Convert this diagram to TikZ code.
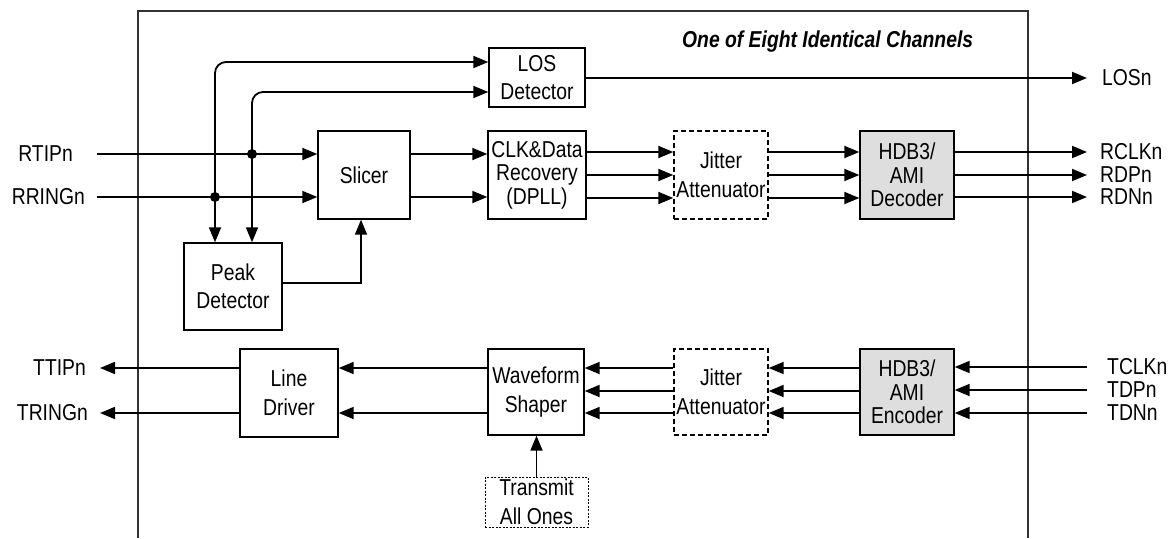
\documentclass[tikz,border=0pt]{standalone}
\usepackage{fontspec}
\setmainfont{Liberation Sans}[FakeStretch=0.84]
\usetikzlibrary{arrows.meta}
\newcommand\fA{\fontsize{23}{25}\selectfont}
\newcommand\fB{\fontsize{23}{28.5}\selectfont}
\newcommand\fC{\fontsize{23}{23.5}\selectfont}
\begin{document}
\begin{tikzpicture}[x=1pt,y=-1pt,
  every node/.style={font=\fA},
  box/.style={draw, line width=1.4pt, inner sep=0pt, align=center},
  jbox/.style={box, dash pattern=on 5pt off 3pt},
  gbox/.style={box, fill=black!13},
  wire/.style={line width=1.8pt},
  tip/.tip={Triangle[length=15pt,width=12pt]},
  arr/.style={wire, -tip},
  lbl/.style={inner sep=0pt},
  dot/.style={circle, fill, inner sep=0pt, minimum size=10pt},
  frame/.style={line width=1.3pt, black!80}]
\useasboundingbox (0,0) rectangle (1172,538);
% frame
\draw[frame] (138,538) -- (138,11) -- (1028,11) -- (1028,538);
\node[font=\fA\bfseries\itshape, anchor=west, inner sep=0pt] (title) at (682,42) {One of Eight Identical Channels};
% receive boxes
\node[box, minimum width=96pt, minimum height=59pt, font=\fB] (los) at (537,77.5) {LOS\\Detector};
\node[box, minimum width=92pt, minimum height=88pt] (slicer) at (364,175) {Slicer};
\node[box, minimum width=98pt, minimum height=88pt, font=\fC] (cdr) at (537,175) {CLK\&Data\\Recovery\\(DPLL)};
\node[jbox, minimum width=94pt, minimum height=88pt, font=\fB] (jitr) at (721,175) {Jitter\\Attenuator};
\node[gbox, minimum width=94pt, minimum height=88pt, font=\fC] (dec) at (907,175) {HDB3/\\AMI\\Decoder};
\node[box, minimum width=98pt, minimum height=87pt, font=\fB] (peak) at (233,286.5) {Peak\\Detector};
% transmit boxes
\node[box, minimum width=98pt, minimum height=88pt, font=\fB] (ld) at (289,393) {Line\\Driver};
\node[box, minimum width=96pt, minimum height=86pt, font=\fB] (ws) at (536,392) {Waveform\\Shaper};
\node[jbox, minimum width=94pt, minimum height=86pt, font=\fB] (jitt) at (721,392) {Jitter\\Attenuator};
\node[gbox, minimum width=94pt, minimum height=86pt, font=\fC] (enc) at (907,392) {HDB3/\\AMI\\Encoder};
\node[box, line width=1pt, dash pattern=on 2pt off 1.5pt, minimum width=103pt, minimum height=50pt, font=\fB] (tao) at (536.5,502) {Transmit\\All Ones};
% labels
\node[lbl, anchor=east] (rtip) at (73,154) {RTIPn};
\node[lbl, anchor=east] (rring) at (85,197) {RRINGn};
\node[lbl, anchor=east] (ttip) at (86,368) {TTIPn};
\node[lbl, anchor=east] (tring) at (88,413) {TRINGn};
\node[lbl, anchor=west] (losn) at (1102,78) {LOSn};
\node[lbl, anchor=west] (rclk) at (1100,152) {RCLKn};
\node[lbl, anchor=west] (rdp) at (1100,175) {RDPn};
\node[lbl, anchor=west] (rdn) at (1100,197) {RDNn};
\node[lbl, anchor=west] (tclk) at (1107,367) {TCLKn};
\node[lbl, anchor=west] (tdp) at (1107,390) {TDPn};
\node[lbl, anchor=west] (tdn) at (1107,413) {TDNn};
% receive inputs
\draw[arr] ([xshift=24pt]rtip.east) -- (rtip.east -| slicer.west);
\draw[arr] ([xshift=12pt]rring.east) -- (rring.east -| slicer.west);
\draw[arr] (rtip.east -| slicer.east) -- (rtip.east -| cdr.west);
\draw[arr] (rring.east -| slicer.east) -- (rring.east -| cdr.west);
\node[dot] (j1) at (252,154) {};
\node[dot] (j2) at (215,197) {};
\draw[wire, tip-tip, rounded corners=11pt]
  ([xshift=-18pt]peak.north) |- ([yshift=15.5pt]los.west);
\draw[wire, tip-tip, rounded corners=11pt]
  ([xshift=19pt]peak.north) |- ([yshift=-14.5pt]los.west);
\draw[arr] ([yshift=3.5pt]peak.east) -| ([xshift=-3pt]slicer.south);
% receive chain
\foreach \y in {152,175,198}{
  \coordinate (yy) at (0,\y);
  \draw[arr] (cdr.east |- yy) -- (jitr.west |- yy);
  \draw[arr] (jitr.east |- yy) -- (dec.west |- yy);
}
\draw[arr] (los.east |- losn.west) -- ([xshift=-15pt]losn.west);
\draw[arr] (dec.east |- rclk.west) -- ([xshift=-13pt]rclk.west);
\draw[arr] (dec.east |- rdp.west) -- ([xshift=-13pt]rdp.west);
\draw[arr] (dec.east |- rdn.west) -- ([xshift=-13pt]rdn.west);
% transmit chain
\draw[arr] ([xshift=-20pt]tclk.west) -- (tclk.west -| enc.east);
\draw[arr] ([xshift=-20pt]tdp.west) -- (tdp.west -| enc.east);
\draw[arr] ([xshift=-20pt]tdn.west) -- (tdn.west -| enc.east);
\foreach \y in {368,391,413}{
  \coordinate (yy) at (0,\y);
  \draw[arr] (enc.west |- yy) -- (jitt.east |- yy);
  \draw[arr] (jitt.west |- yy) -- (ws.east |- yy);
}
\draw[arr] (ws.west |- ttip.east) -- (ld.east |- ttip.east);
\draw[arr] (ws.west |- tring.east) -- (ld.east |- tring.east);
\draw[arr] (ld.west |- ttip.east) -- ([xshift=14pt]ttip.east);
\draw[arr] (ld.west |- tring.east) -- ([xshift=12pt]tring.east);
\draw[arr] (tao.north) -- (tao.north |- ws.south);
\end{tikzpicture}
\end{document}
